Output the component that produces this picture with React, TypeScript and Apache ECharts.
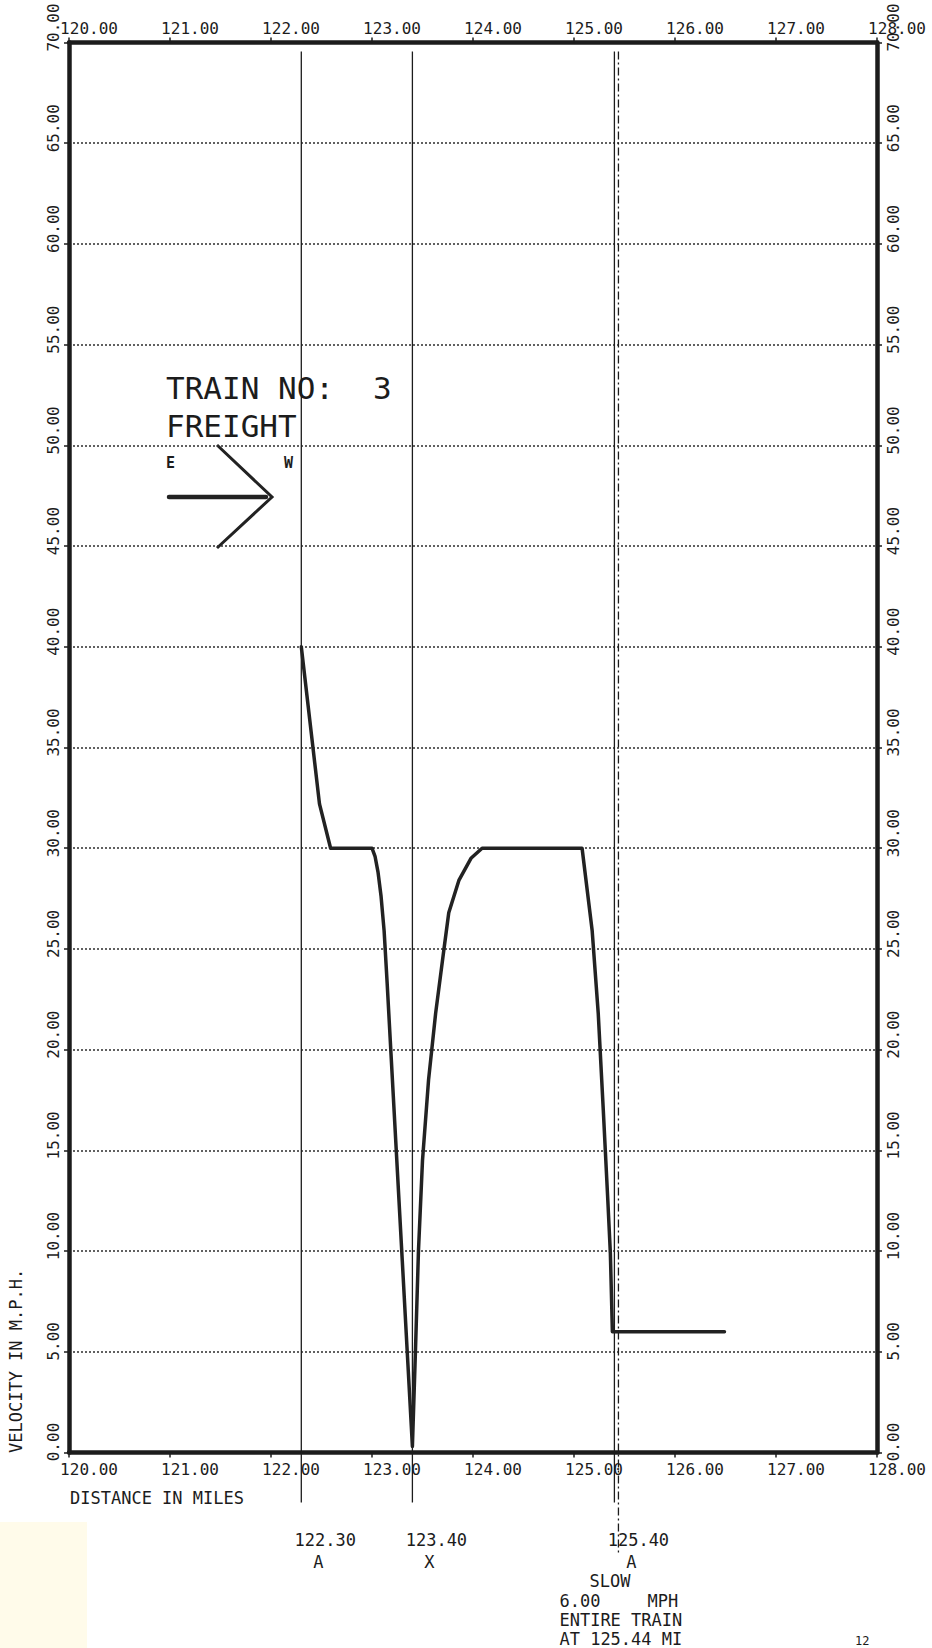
import React, { useEffect, useRef } from 'react';
import * as echarts from 'echarts';

// ---- data ----
const xTickMin = 120;
const xTickMax = 128;
const yTickMin = 0;
const yTickMax = 70;

const distanceMiles = [
  122.30, 122.48, 122.59, 123.00, 123.03, 123.06, 123.09, 123.12, 123.15, 123.30,
  123.35, 123.40, 123.43, 123.46, 123.50, 123.56, 123.63, 123.71, 123.76, 123.86,
  123.98, 124.09, 125.08, 125.18, 125.24, 125.29, 125.335, 125.36, 125.38, 126.49,
];
const velocityMph = [
  40.0, 32.2, 30.0, 30.0, 29.6, 28.8, 27.6, 25.9, 23.3, 9.5,
  4.9, 0.3, 5.0, 10.0, 14.5, 18.5, 21.8, 24.9, 26.8, 28.4,
  29.5, 30.0, 30.0, 25.9, 21.8, 17.0, 12.5, 9.9, 6.0, 6.0,
];

const markerMiles = [122.30, 123.40, 125.40];
const markerCodes = ['A', 'X', 'A'];

const slowMile = [125.44];
const slowSpeed = [6.0];

const trainTitle = 'TRAIN NO:';
const trainNumber = '3';
const trainType = 'FREIGHT';
const xAxisTitle = 'DISTANCE IN MILES';
const yAxisTitle = 'VELOCITY IN M.P.H.';
const cornerNote = '12';

const FONT = '"DejaVu Sans Mono", "Liberation Mono", monospace';
const INK = '#1c1c1c';

export default function App() {
  const ref = useRef<HTMLDivElement>(null);

  useEffect(() => {
    if (!ref.current) return;
    const chart = echarts.init(ref.current, null, { renderer: 'svg' });

    const velocityData = distanceMiles.map((d, i) => [d, velocityMph[i]]);
    const markerData = markerMiles.map((m, i) => [m, 0, i]);
    const slowData = slowMile.map((m, i) => [m, slowSpeed[i]]);

    const xLabelFmt = (v: number) => v.toFixed(2);
    const yLabelFmt = (v: number) => {
      const s = v.toFixed(2);
      return `{${s.length <= 4 ? 's' : 'l'}|${s}}`;
    };
    const yRich = {
      s: { fontFamily: FONT, fontSize: 16, color: INK, padding: [0, 0, 0, 21] },
      l: { fontFamily: FONT, fontSize: 16, color: INK, padding: [0, 0, 0, 30] },
    };

    const axisLine = { show: true, onZero: false, lineStyle: { color: INK, width: 4.5 } };
    const axisTick = { show: true, length: 5, lineStyle: { color: INK, width: 1.5 } };

    const xAxisBase = (position: string, margin: number) => ({
      type: 'value',
      position,
      min: xTickMin,
      max: xTickMax,
      interval: 1,
      axisLine,
      axisTick,
      splitLine: { show: false },
      axisLabel: {
        formatter: xLabelFmt,
        fontFamily: FONT,
        fontSize: 16,
        color: INK,
        margin,
        align: 'center',
        padding: [0, 0, 0, 40],
        showMinLabel: true,
        showMaxLabel: true,
      },
    });

    const yAxisBase = (position: string, vAlign: string, grid: boolean) => ({
      type: 'value',
      position,
      min: yTickMin,
      max: yTickMax,
      interval: 5,
      axisLine,
      axisTick,
      splitLine: {
        show: grid,
        lineStyle: { type: [2, 2], color: '#2e2e2e', width: 1.6 },
      },
      axisLabel: {
        rotate: 90,
        align: 'center',
        verticalAlign: vAlign,
        margin: 8,
        formatter: yLabelFmt,
        rich: yRich,
        showMinLabel: true,
        showMaxLabel: true,
      },
    });

    const txt = (size: number, extra: any = {}) => ({
      fontFamily: FONT,
      fontSize: size,
      fill: INK,
      ...extra,
    });

    chart.setOption({
      animation: false,
      backgroundColor: '#ffffff',
      grid: { left: 69, top: 42.5, width: 808, height: 1410, outerBoundsMode: 'none' },
      xAxis: [xAxisBase('bottom', 8.5), xAxisBase('top', 6)],
      yAxis: [yAxisBase('left', 'bottom', true), yAxisBase('right', 'top', false)],
      series: [
        {
          type: 'custom',
          name: 'markers',
          clip: false,
          z: 2,
          encode: { x: 0, y: 1 },
          data: markerData,
          renderItem: (params: any, api: any) => {
            const m = api.value(0) as number;
            const code = markerCodes[api.value(2) as number];
            const top = api.coord([m, yTickMax]);
            const bot = api.coord([m, yTickMin]);
            return {
              type: 'group',
              children: [
                {
                  type: 'line',
                  shape: { x1: top[0], y1: top[1] + 9, x2: bot[0], y2: bot[1] + 50 },
                  style: { stroke: INK, lineWidth: 1.3 },
                },
                {
                  type: 'text',
                  x: bot[0] + 24,
                  y: bot[1] + 87,
                  style: txt(17, { text: m.toFixed(2), align: 'center', verticalAlign: 'middle' }),
                },
                {
                  type: 'text',
                  x: bot[0] + 17,
                  y: bot[1] + 109,
                  style: txt(17, { text: code, align: 'center', verticalAlign: 'middle' }),
                },
              ],
            };
          },
        },
        {
          type: 'custom',
          name: 'slow order',
          clip: false,
          z: 2,
          encode: { x: 0, y: 1 },
          data: slowData,
          renderItem: (params: any, api: any) => {
            const m = api.value(0) as number;
            const v = api.value(1) as number;
            const top = api.coord([m, yTickMax]);
            const bot = api.coord([m, yTickMin]);
            const bx = bot[0];
            const by = bot[1];
            const t = (s: string, dx: number, dy: number) => ({
              type: 'text',
              x: bx + dx,
              y: by + dy,
              style: txt(17, { text: s, align: 'left', verticalAlign: 'middle' }),
            });
            return {
              type: 'group',
              children: [
                {
                  type: 'line',
                  shape: { x1: top[0], y1: top[1] + 9, x2: bx, y2: by + 100 },
                  style: { stroke: INK, lineWidth: 1.3, lineDash: [8, 3, 2, 3] },
                },
                t('SLOW', -29, 128),
                t(v.toFixed(2), -59, 148),
                t('MPH', 29, 148),
                t('ENTIRE TRAIN', -59, 167),
                t(`AT ${m.toFixed(2)} MI`, -59, 186),
              ],
            };
          },
        },
        {
          type: 'line',
          name: 'velocity',
          z: 3,
          data: velocityData,
          showSymbol: false,
          symbol: 'none',
          lineStyle: { color: '#222', width: 3.5, join: 'round', cap: 'round' },
        },
      ],
      graphic: [
        {
          type: 'rect',
          z: -10,
          silent: true,
          shape: { x: 0, y: 1522, width: 87, height: 126 },
          style: { fill: '#fffbea' },
        },
        {
          type: 'text',
          x: 166,
          y: 388,
          style: txt(31, { text: trainTitle, verticalAlign: 'middle' }),
        },
        {
          type: 'text',
          x: 373,
          y: 388,
          style: txt(31, { text: trainNumber, verticalAlign: 'middle' }),
        },
        {
          type: 'text',
          x: 166,
          y: 426,
          style: txt(31, { text: trainType, verticalAlign: 'middle' }),
        },
        {
          type: 'text',
          x: 166,
          y: 463,
          style: txt(15, { text: 'E', fontWeight: 'bold', verticalAlign: 'middle' }),
        },
        {
          type: 'text',
          x: 284,
          y: 463,
          style: txt(15, { text: 'W', fontWeight: 'bold', verticalAlign: 'middle' }),
        },
        {
          type: 'line',
          shape: { x1: 169, y1: 497, x2: 266, y2: 497 },
          style: { stroke: '#222', lineWidth: 4.5, lineCap: 'round' },
        },
        {
          type: 'polyline',
          shape: { points: [[217, 445], [272, 497], [217, 548]] },
          style: { stroke: '#222', lineWidth: 3, fill: 'none' },
        },
        {
          type: 'text',
          x: 70,
          y: 1498,
          style: txt(17, { text: xAxisTitle, verticalAlign: 'middle' }),
        },
        {
          type: 'text',
          x: 24,
          y: 1453,
          rotation: Math.PI / 2,
          style: txt(17, { text: yAxisTitle, align: 'left', verticalAlign: 'bottom' }),
        },
        {
          type: 'text',
          x: 855,
          y: 1647,
          style: txt(12, { text: cornerNote, verticalAlign: 'bottom' }),
        },
      ],
    });

    return () => {
      chart.dispose();
    };
  }, []);

  return (
    <div
      ref={ref}
      style={{ position: 'absolute', left: 0, top: 0, width: 932, height: 1648, background: '#fff' }}
    />
  );
}
